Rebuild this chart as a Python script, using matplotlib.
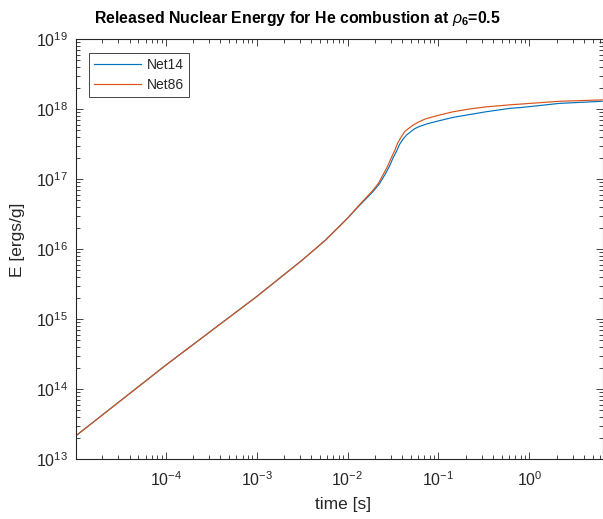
import numpy as np
import matplotlib
matplotlib.use("Agg")
import matplotlib.pyplot as plt
from matplotlib.ticker import FixedLocator, NullFormatter, LogFormatterSciNotation

plt.rcParams['font.family'] = ['Liberation Sans', 'DejaVu Sans']
plt.rcParams['mathtext.fontset'] = 'custom'
plt.rcParams['mathtext.rm'] = 'Liberation Sans'
plt.rcParams['mathtext.it'] = 'Liberation Sans:italic'
plt.rcParams['mathtext.bf'] = 'Liberation Sans:bold'

# ---- data (log10 of time [s] and log10 of energy [ergs/g]) ----
log_t_net86 = [-5.0, -4.5, -4.0, -3.5, -3.0, -2.5, -2.24, -2.0, -1.87, -1.72,
               -1.66, -1.61, -1.56, -1.52, -1.48, -1.45, -1.41, -1.37, -1.32,
               -1.28, -1.21, -1.14, -1.0, -0.84, -0.66, -0.48, -0.21, -0.10,
               0.33, 0.80]
log_E_net86 = [13.32, 13.83, 14.34, 14.83, 15.32, 15.84, 16.13, 16.44, 16.63, 16.84,
               16.94, 17.06, 17.18, 17.30, 17.41, 17.51, 17.60, 17.68, 17.73,
               17.77, 17.82, 17.86, 17.91, 17.96, 18.00, 18.03, 18.06, 18.07,
               18.11, 18.13]

log_t_net14 = [-5.0, -4.5, -4.0, -3.5, -3.0, -2.5, -2.24, -2.0, -1.87, -1.72,
               -1.65, -1.59, -1.54, -1.50, -1.46, -1.43, -1.39, -1.35, -1.30,
               -1.26, -1.21, -1.12, -1.0, -0.84, -0.66, -0.48, -0.21, -0.10,
               0.33, 0.80]
log_E_net14 = [13.32, 13.83, 14.34, 14.83, 15.32, 15.84, 16.13, 16.44, 16.62, 16.82,
               16.93, 17.06, 17.18, 17.30, 17.40, 17.49, 17.57, 17.63, 17.68,
               17.72, 17.75, 17.79, 17.83, 17.88, 17.92, 17.96, 18.01, 18.02,
               18.08, 18.11]

series_labels = ['Net14', 'Net86']
series_colors = ['#0072BD', '#D95319']

x_major_ticks = [1e-4, 1e-3, 1e-2, 1e-1, 1e0]
y_major_ticks = [1e13, 1e14, 1e15, 1e16, 1e17, 1e18, 1e19]

t14 = 10.0 ** np.array(log_t_net14)
E14 = 10.0 ** np.array(log_E_net14)
t86 = 10.0 ** np.array(log_t_net86)
E86 = 10.0 ** np.array(log_E_net86)

W, H = 603, 519
fig = plt.figure(figsize=(W / 100, H / 100), dpi=100)
L, R, B, T = 76, 603, 459, 39
ax = fig.add_axes([L / W, 1 - B / H, (R - L) / W, (B - T) / H])

ax.plot(t14, E14, color=series_colors[0], lw=0.85, label=series_labels[0])
ax.plot(t86, E86, color=series_colors[1], lw=0.85, label=series_labels[1])

ax.set_xscale('log')
ax.set_yscale('log')
xlo, xhi = 1.03e-5, 10 ** 0.81
ax.set_xlim(xlo, xhi)
ax.set_ylim(1e13, 1e19)

axcol = '#262626'
for s in ax.spines.values():
    s.set_color(axcol)
    s.set_linewidth(0.8)

x_minor = [m * 10.0 ** e for e in range(-6, 2) for m in range(2, 10)]
x_minor = [v for v in x_minor if xlo <= v <= xhi]
y_minor = [m * 10.0 ** e for e in range(13, 19) for m in range(2, 10)]

ax.xaxis.set_major_locator(FixedLocator(x_major_ticks))
ax.yaxis.set_major_locator(FixedLocator(y_major_ticks))
ax.xaxis.set_major_formatter(LogFormatterSciNotation())
ax.yaxis.set_major_formatter(LogFormatterSciNotation())
ax.xaxis.set_minor_locator(FixedLocator(x_minor))
ax.yaxis.set_minor_locator(FixedLocator(y_minor))
ax.xaxis.set_minor_formatter(NullFormatter())
ax.yaxis.set_minor_formatter(NullFormatter())

ax.tick_params(which='both', direction='in', top=True, right=True, colors=axcol,
               labelsize=11.5, width=0.6)
ax.tick_params(which='major', length=5)
ax.tick_params(which='minor', length=2.8)
ax.tick_params(axis='x', pad=8)
ax.tick_params(axis='y', pad=6)

ax.set_xlabel('time [s]', fontsize=12.5, color=axcol, va='center')
ax.set_ylabel('E [ergs/g]', fontsize=12.5, color=axcol, va='center')
ax.xaxis.set_label_coords((343 - L) / (R - L), (B - 504) / (B - T))
ax.yaxis.set_label_coords((18 - L) / (R - L), (B - 240) / (B - T))

fig.text(297 / W, 1 - 18 / H, r'Released Nuclear Energy for He combustion at $\rho_{\mathbf{6}}$=0.5',
         ha='center', va='center', fontsize=11.4, fontweight='bold', color='black')

leg = ax.legend(loc='upper left', bbox_to_anchor=((89 - L) / (R - L), (B - 53) / (B - T)),
                borderaxespad=0, fancybox=False, edgecolor=axcol, fontsize=10,
                handlelength=3.4, handletextpad=0.4, labelspacing=0.45,
                borderpad=0.35, framealpha=1)
leg.get_frame().set_linewidth(0.6)
for txt in leg.get_texts():
    txt.set_color(axcol)

fig.savefig('out.png', dpi=100)
